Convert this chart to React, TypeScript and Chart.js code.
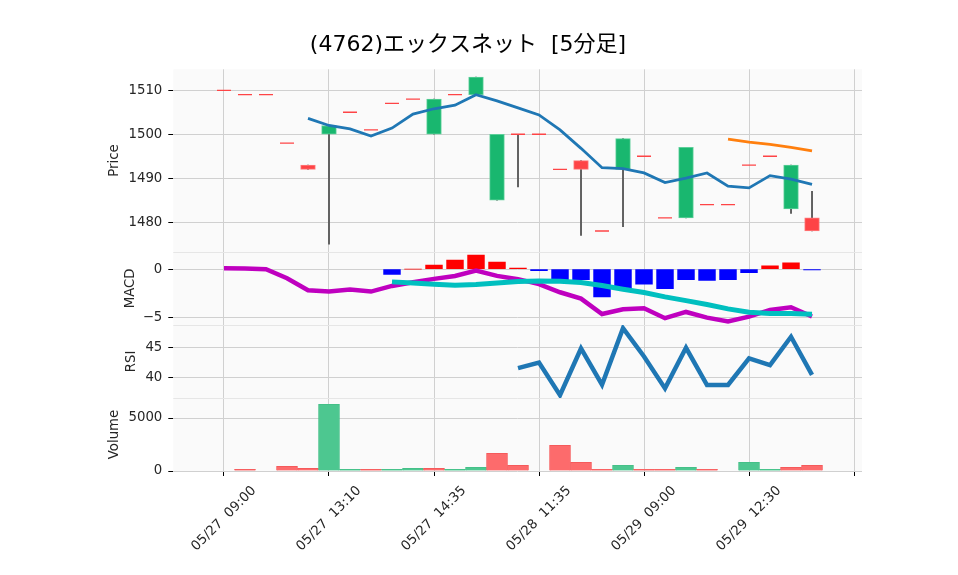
import React, { useEffect, useRef } from 'react';
import { Chart, registerables } from 'chart.js';

Chart.register(...registerables);

// ---------- data ----------
const TITLE = '(4762)エックスネット  [5分足]';
const xTickIndex = [0, 5, 10, 15, 20, 25, 30];
const xTickLabels = ['05/27  09:00', '05/27  13:10', '05/27  14:35', '05/28  11:35', '05/29  09:00', '05/29  12:30', ''];

const opens = [1510, 1509, 1509, 1498, 1493, 1500, 1505, 1501, 1507, 1508, 1500, 1509, 1509, 1485, 1500, 1500, 1492, 1494, 1478, 1492, 1495, 1481, 1481, 1484, 1484, 1493, 1495, 1483, 1481];
const closes = [1510, 1509, 1509, 1498, 1492, 1502, 1505, 1501, 1507, 1508, 1508, 1509, 1513, 1500, 1500, 1500, 1492, 1492, 1478, 1499, 1495, 1481, 1497, 1484, 1484, 1493, 1495, 1493, 1478];
const highs = [1510, 1509, 1509, 1498, 1493, 1502, 1505, 1501, 1507, 1508, 1508, 1509, 1513, 1500, 1500, 1500, 1492, 1494, 1478, 1499, 1495, 1481, 1497, 1484, 1484, 1493, 1495, 1493, 1487];
const lows = [1510, 1509, 1509, 1498, 1492, 1475, 1505, 1501, 1507, 1508, 1500, 1509, 1509, 1485, 1488, 1500, 1492, 1477, 1478, 1479, 1495, 1481, 1481, 1484, 1484, 1493, 1495, 1482, 1478];

const ma5 = [null, null, null, null, 1503.6, 1502.0, 1501.2, 1499.6, 1501.4, 1504.6, 1505.8, 1506.6, 1509.0, 1507.6, 1506.0, 1504.4, 1501.0, 1496.8, 1492.4, 1492.2, 1491.2, 1489.0, 1490.0, 1491.2, 1488.2, 1487.8, 1490.6, 1489.8, 1488.6];
const ma25 = [null, null, null, null, null, null, null, null, null, null, null, null, null, null, null, null, null, null, null, null, null, null, null, null, 1498.9, 1498.2, 1497.7, 1497.0, 1496.2];

const macdLine = [0.10, 0.07, 0.0, -0.94, -2.19, -2.33, -2.12, -2.33, -1.74, -1.36, -1.01, -0.70, -0.14, -0.70, -1.04, -1.56, -2.4, -3.06, -4.66, -4.17, -4.06, -5.1, -4.45, -5.04, -5.45, -4.93, -4.24, -3.96, -4.93];
const macdSignal = [null, null, null, null, null, null, null, null, -1.32, -1.43, -1.56, -1.66, -1.6, -1.43, -1.29, -1.22, -1.25, -1.39, -1.7, -2.08, -2.43, -2.88, -3.27, -3.68, -4.13, -4.48, -4.62, -4.62, -4.69];
const macdHist = [null, null, null, null, null, null, null, null, -0.55, 0, 0.42, 0.94, 1.46, 0.73, 0.12, -0.15, -1.1, -1.1, -2.88, -1.98, -1.56, -2.02, -1.08, -1.18, -1.08, -0.35, 0.34, 0.66, -0.08];

const rsi = [null, null, null, null, null, null, null, null, null, null, null, null, null, null, 41.6, 42.5, 37.2, 44.8, 38.9, 48.1, 43.5, 38.3, 44.9, 38.85, 38.85, 43.2, 42.1, 46.7, 40.5];

const volumes = [0, 150, 0, 440, 250, 6290, 150, 150, 150, 250, 250, 150, 350, 1670, 540, 0, 2420, 820, 160, 535, 160, 160, 350, 160, 0, 820, 160, 350, 535];

const priceTicks = [1480, 1490, 1500, 1510];
const macdTicks = [-5, 0];
const rsiTicks = [40, 45];
const volTicks = [0, 5000];

// ---------- styles ----------
const UP = '#19b76f';
const DOWN = '#fe4446';
const UP_EDGE = '#5ccf99';
const DOWN_EDGE = '#ff7a7b';
const WICK = '#606060';
const VOL_UP = '#4dc790';
const VOL_DOWN = '#fd6b6c';
const GRID = '#d0d0d0';
const FONT = '"DejaVu Sans", sans-serif';
const TXT = '#262626';

const pts = (arr: (number | null)[]) =>
  arr.map((v, i) => (v === null ? null : { x: i, y: v })).filter((p) => p !== null) as { x: number; y: number }[];

const panelPlugin = {
  id: 'panelBg',
  beforeDraw(chart: any) {
    const { ctx, chartArea } = chart;
    ctx.save();
    ctx.fillStyle = '#fafafa';
    for (const id of ['yP', 'yM', 'yR', 'yV']) {
      const s = chart.scales[id];
      ctx.fillRect(chartArea.left, s.top, chartArea.right - chartArea.left, s.bottom - s.top);
    }
    ctx.restore();
  },
  beforeDatasetsDraw(chart: any) {
    const { ctx, chartArea } = chart;
    ctx.save();
    ctx.strokeStyle = '#e6e6e6';
    ctx.lineWidth = 1;
    for (const id of ['yP', 'yM', 'yR']) {
      const s = chart.scales[id];
      ctx.beginPath();
      ctx.moveTo(chartArea.left, Math.round(s.bottom) + 0.5);
      ctx.lineTo(chartArea.right, Math.round(s.bottom) + 0.5);
      ctx.stroke();
    }
    ctx.restore();
  },
  afterDraw(chart: any) {
    const { ctx } = chart;
    ctx.save();
    ctx.font = '22px "DejaVu Sans", "Noto Sans CJK JP", sans-serif';
    ctx.fillStyle = '#000';
    ctx.textAlign = 'center';
    ctx.textBaseline = 'middle';
    ctx.fillText(TITLE, 468, 45);
    ctx.restore();
  },
};

function yAxis(title: string, weight: number, min: number, max: number, ticks: number[], titlePad: number, fmt: (v: number) => string) {
  return {
    type: 'linear',
    position: 'left',
    stack: 'panels',
    stackWeight: weight,
    min,
    max,
    border: { display: false },
    grid: { color: GRID, tickColor: '#000', tickLength: 5, drawTicks: true, lineWidth: 1 },
    afterBuildTicks: (s: any) => {
      s.ticks = ticks.map((v) => ({ value: v }));
    },
    afterFit: (s: any) => {
      s.width = 70;
    },
    ticks: {
      color: TXT,
      font: { family: FONT, size: 13.3 },
      padding: 6,
      callback: (v: any) => fmt(Number(v)),
    },
    title: {
      display: true,
      text: title,
      color: TXT,
      font: { family: FONT, size: 13.3 },
      padding: { top: titlePad, bottom: 0 },
    },
  };
}

export default function App() {
  const ref = useRef<HTMLCanvasElement>(null);

  useEffect(() => {
    document.body.style.margin = '0';
    const canvas = ref.current!;

    const idx = opens.map((_, i) => i);
    const bodies = idx.filter((i) => opens[i] !== closes[i]);
    const dojis = idx.filter((i) => opens[i] === closes[i]);
    const wickIdx = idx.filter((i) => highs[i] !== lows[i]);

    const histIdx = idx.filter((i) => macdHist[i] !== null);

    const chart = new Chart(canvas, {
      type: 'bar',
      data: {
        datasets: [
          // price panel
          {
            type: 'line',
            label: 'MA5',
            yAxisID: 'yP',
            data: pts(ma5),
            borderColor: '#1f77b4',
            borderWidth: 2.8,
            pointRadius: 0,
            order: 0,
          },
          {
            type: 'line',
            label: 'MA25',
            yAxisID: 'yP',
            data: pts(ma25),
            borderColor: '#ff7f0e',
            borderWidth: 2.8,
            pointRadius: 0,
            order: 0,
          },
          {
            type: 'line',
            label: 'doji',
            yAxisID: 'yP',
            data: dojis.map((i) => ({ x: i, y: closes[i] })),
            showLine: false,
            pointStyle: 'line',
            pointRadius: 7,
            pointBorderWidth: 1.3,
            borderColor: DOWN,
            pointBorderColor: DOWN,
            order: 1,
          },
          {
            type: 'bar',
            label: 'body',
            yAxisID: 'yP',
            data: bodies.map((i) => ({ x: i, y: [opens[i], closes[i]] })),
            backgroundColor: bodies.map((i) => (closes[i] > opens[i] ? UP : DOWN)),
            borderColor: bodies.map((i) => (closes[i] > opens[i] ? UP_EDGE : DOWN_EDGE)),
            borderWidth: 1,
            borderSkipped: false,
            barThickness: 14.7,
            grouped: false,
            order: 2,
          },
          {
            type: 'bar',
            label: 'wick',
            yAxisID: 'yP',
            data: wickIdx.map((i) => ({ x: i, y: [lows[i], highs[i]] })),
            backgroundColor: WICK,
            barThickness: 1.3,
            grouped: false,
            order: 3,
          },
          // MACD panel
          {
            type: 'line',
            label: 'signal',
            yAxisID: 'yM',
            data: pts(macdSignal),
            borderColor: '#00bfbf',
            borderWidth: 5,
            pointRadius: 0,
            order: 4,
          },
          {
            type: 'line',
            label: 'macd',
            yAxisID: 'yM',
            data: pts(macdLine),
            borderColor: '#bf00bf',
            borderWidth: 4.5,
            pointRadius: 0,
            order: 5,
          },
          {
            type: 'bar',
            label: 'hist',
            yAxisID: 'yM',
            data: histIdx.map((i) => ({ x: i, y: macdHist[i] as number })),
            backgroundColor: histIdx.map((i) => ((macdHist[i] as number) >= 0 ? '#ff0000' : '#0000ff')),
            barThickness: 16.8,
            grouped: false,
            order: 6,
          },
          // RSI panel
          {
            type: 'line',
            label: 'rsi',
            yAxisID: 'yR',
            data: pts(rsi),
            borderColor: '#1f77b4',
            borderWidth: 4.5,
            pointRadius: 0,
            order: 7,
          },
          // Volume panel
          {
            type: 'bar',
            label: 'volume',
            yAxisID: 'yV',
            data: idx.map((i) => ({ x: i, y: volumes[i] })),
            backgroundColor: idx.map((i) => (i > 0 && closes[i] > closes[i - 1] ? VOL_UP : VOL_DOWN)),
            borderColor: idx.map((i) => (i > 0 && closes[i] > closes[i - 1] ? '#45c088' : '#f55a5b')),
            borderWidth: 1,
            borderSkipped: 'start',
            barThickness: 21,
            grouped: false,
            order: 8,
          },
        ] as any,
      },
      options: {
        animation: false,
        responsive: false,
        events: [],
        layout: { padding: { left: 103.3, right: 96, top: 69.3, bottom: 0 } },
        plugins: {
          legend: { display: false },
          tooltip: { enabled: false },
          title: { display: false },
        },
        scales: {
          x: {
            type: 'linear',
            position: 'bottom',
            offset: false,
            min: -2.414,
            max: 30.38,
            border: { display: false },
            grid: { color: GRID, tickColor: '#000', tickLength: 5, drawTicks: true, offset: false },
            afterBuildTicks: (s: any) => {
              s.ticks = xTickIndex.map((v) => ({ value: v }));
            },
            afterFit: (s: any) => {
              s.height = 104;
            },
            ticks: {
              autoSkip: false,
              maxRotation: 45,
              minRotation: 45,
              labelOffset: 30,
              padding: 7,
              color: TXT,
              font: { family: FONT, size: 13.3 },
              callback: (v: any) => {
                const k = xTickIndex.indexOf(Number(v));
                return k >= 0 ? xTickLabels[k] : '';
              },
            },
          },
          yV: yAxis('Volume', 1, 0, 6895, volTicks, 3.7, (v) => String(v)),
          yR: yAxis('RSI', 1, 36.74, 48.63, rsiTicks, 20.7, (v) => String(v)),
          yM: yAxis('MACD', 1, -5.8, 1.8, macdTicks, 19.7, (v) => (v < 0 ? '\u2212' + Math.abs(v) : String(v))),
          yP: yAxis('Price', 2.5, 1473.25, 1514.77, priceTicks, 3.7, (v) => String(v)),
        } as any,
      },
      plugins: [panelPlugin],
    } as any);

    return () => chart.destroy();
  }, []);

  return (
    <div style={{ width: 958, height: 575, background: '#fff' }}>
      <canvas ref={ref} width={958} height={575} style={{ display: 'block', width: 958, height: 575 }} />
    </div>
  );
}
